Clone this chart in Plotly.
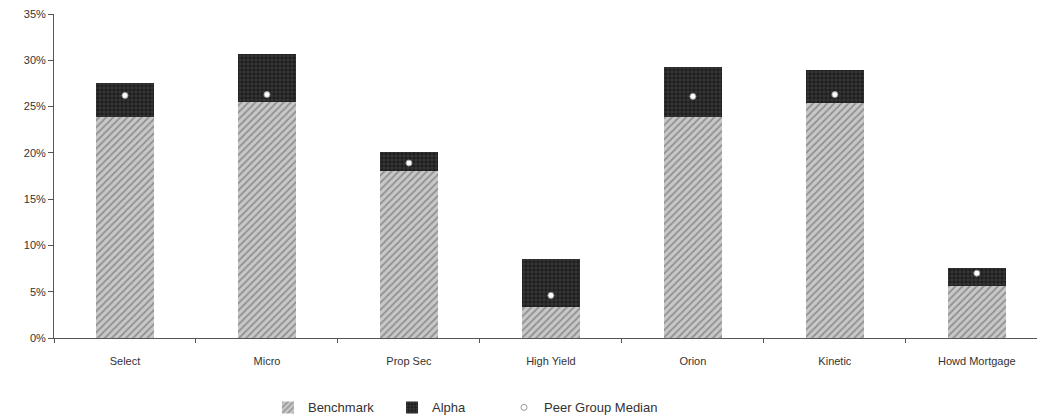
import plotly.graph_objects as go

categories = ["Select", "Micro", "Prop Sec", "High Yield", "Orion", "Kinetic", "Howd Mortgage"]
benchmark = [0.239, 0.255, 0.180, 0.033, 0.239, 0.254, 0.056]
alpha = [0.036, 0.052, 0.021, 0.052, 0.054, 0.036, 0.020]
peer_median = [0.262, 0.263, 0.189, 0.046, 0.261, 0.263, 0.070]

font_family = "Liberation Sans, Arial, sans-serif"
txt = "#333333"

fig = go.Figure()
fig.add_trace(go.Bar(
    name="Benchmark", x=categories, y=benchmark, width=0.41, legend="legend",
    marker=dict(color="#bdbdbd", line=dict(width=0),
                pattern=dict(shape="/", fgcolor="#5a5a5a", bgcolor="#c8c8c8", size=5, solidity=0.35)),
))
fig.add_trace(go.Bar(
    name="Alpha", x=categories, y=alpha, width=0.41, legend="legend2",
    marker=dict(color="#222222", line=dict(width=0),
                pattern=dict(shape="+", fgcolor="#6a6a6a", bgcolor="#1e1e1e", size=4, solidity=0.3)),
))
fig.add_trace(go.Scatter(
    name="Peer Group Median", x=categories, y=peer_median, mode="markers", legend="legend3",
    marker=dict(symbol="circle", size=6, color="#ffffff", line=dict(color="#9a9a9a", width=1)),
))

leg_common = dict(orientation="h", xanchor="left", y=-0.168, yanchor="top", xref="paper",
                  font=dict(size=13, color=txt), bgcolor="rgba(0,0,0,0)", itemwidth=30)

fig.update_layout(
    barmode="stack",
    width=1037, height=416,
    margin=dict(l=46, r=0, t=6, b=86),
    paper_bgcolor="white", plot_bgcolor="white",
    font=dict(family=font_family, size=11, color=txt),
    showlegend=True,
    legend=dict(x=0.2159, **leg_common),
    legend2=dict(x=0.3411, **leg_common),
    legend3=dict(x=0.4541, **leg_common),
    xaxis=dict(range=[-0.5, 6.48], showline=True, linecolor="#555555", linewidth=1,
               ticks="outside", tickson="boundaries", ticklen=4, tickcolor="#555555",
               showgrid=False, zeroline=False, automargin=False, ticklabelstandoff=13,
               ticklabeloverflow="allow", tickfont=dict(size=11, color=txt)),
    yaxis=dict(range=[0, 0.35], dtick=0.05, tickformat=".0%", showline=True,
               linecolor="#555555", linewidth=1, ticks="outside", ticklen=5,
               tickcolor="#555555", showgrid=False, zeroline=False, automargin=False,
               ticklabeloverflow="allow", tickfont=dict(size=11, color=txt)),
)

fig.write_html("out.html")
